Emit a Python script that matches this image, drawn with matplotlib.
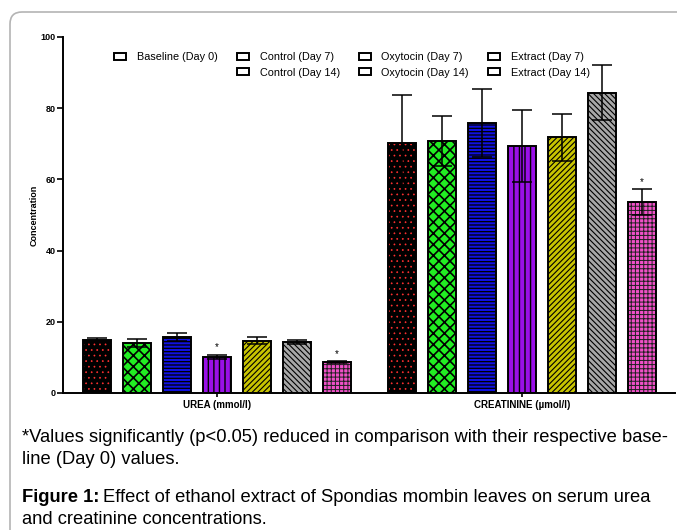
import numpy as np
import matplotlib
matplotlib.use('Agg')
from matplotlib import pyplot as plt
from matplotlib.patches import Patch, FancyBboxPatch

plt.rc('font', family=['Liberation Sans', 'DejaVu Sans'])

groups = ['UREA (mmol/l)', 'CREATININE (µmol/l)']
series = ['Baseline (Day 0)', 'Control (Day 7)', 'Oxytocin (Day 7)', 'Control (Day 14)',
          'Oxytocin (Day 14)', 'Extract (Day 7)', 'Extract (Day 14)']
# mean values, order as in series
urea = [14.9, 14.0, 15.8, 10.2, 14.7, 14.4, 8.7]
urea_err = [0.5, 1.1, 1.1, 0.6, 1.0, 0.6, 0.3]
creat = [70.1, 70.8, 75.8, 69.4, 71.8, 84.3, 53.6]
creat_err = [13.6, 7.1, 9.6, 10.0, 6.7, 7.7, 3.7]
# significantly reduced vs baseline
urea_sig = [False, False, False, True, False, False, True]
creat_sig = [False, False, False, False, False, False, True]

faces = ['black', '#22ee22', '#1010e0', '#9a10e8', '#c8c400', '#a8a8a8', '#f050c8']
hatches = ['...', 'xxx', '-----', '|||', '//////', '\\\\\\\\\\\\', '++++']
hcolors = ['#ff3030', 'black', 'black', 'black', 'black', 'black', '#202020']
hlw = [0.5, 1.2, 0.9, 1.0, 0.8, 0.8, 0.7]

fig = plt.figure(figsize=(6.77, 5.30), dpi=100)
ax = fig.add_axes([63/677, 1-393/530, (675-63)/677, (393-37)/530])

width = 0.7
x_urea = np.arange(7)
x_creat = np.arange(7) + 7.625

for xs, vals, errs, sig in [(x_urea, urea, urea_err, urea_sig), (x_creat, creat, creat_err, creat_sig)]:
    for i in range(7):
        with plt.rc_context({'hatch.linewidth': hlw[i]}):
            ax.bar(xs[i], vals[i], width, color=faces[i], edgecolor=hcolors[i], hatch=hatches[i], lw=0, zorder=2)
        ax.bar(xs[i], vals[i], width, fill=False, edgecolor='black', lw=1.4, zorder=3)
        ax.errorbar(xs[i], vals[i], yerr=errs[i], fmt='none', ecolor='black', elinewidth=1.1,
                    capsize=7, capthick=1.1, zorder=4)
        if sig[i]:
            ax.text(xs[i], vals[i] + errs[i] + 0.6, '*', ha='center', va='bottom', fontsize=7)

ax.set_xlim(-0.85, 14.45)
ax.set_ylim(0, 100)
ax.set_yticks([0, 20, 40, 60, 80, 100])
ax.set_xticks([3, 7.625 + 3])
ax.set_xticklabels(groups, fontsize=7, fontweight='bold')
for lbl in ax.get_yticklabels():
    lbl.set_fontweight('bold')
ax.tick_params(axis='y', labelsize=6.5, length=4, width=1.2, pad=1.5)
ax.tick_params(axis='x', length=3, width=1.2, pad=2)
ax.set_ylabel('Concentration', fontsize=6.5, fontweight='bold', labelpad=1.5)
ax.spines['top'].set_visible(False)
ax.spines['right'].set_visible(False)
ax.spines['left'].set_linewidth(1.4)
ax.spines['bottom'].set_linewidth(1.4)

# legend, baseline alone in first column
handles = [Patch(facecolor='white', edgecolor='black', lw=1.4) for _ in series]
order = [0, None, 1, 3, 2, 4, 5, 6]
hh, ll = [], []
for o in order:
    if o is None:
        hh.append(Patch(alpha=0))
        ll.append('')
    else:
        hh.append(handles[o])
        ll.append(series[o])
ax.legend(hh, ll, ncol=4, loc='upper left', bbox_to_anchor=((110-63)/612, (393-48)/356),
          frameon=False, fontsize=7.8, handlelength=1.1, handleheight=0.55,
          handletextpad=1.0, columnspacing=1.75, labelspacing=0.48, borderaxespad=0)

# page frame
frame = FancyBboxPatch((10, -60), 720, 530 - 12 + 60, boxstyle='round,pad=0,rounding_size=12',
                       transform=None, fill=False, edgecolor='#b4b4b4', lw=1.2)
fig.add_artist(frame)

fs = 13.2
fig.text(22/677, 1-437/530, '*Values significantly (p<0.05) reduced in comparison with their respective base-',
         fontsize=fs, va='center')
fig.text(22/677, 1-460/530, 'line (Day 0) values.', fontsize=fs, va='center')
t = fig.text(22/677, 1-497/530, 'Figure 1:', fontsize=fs, va='center', fontweight='bold')
r = fig.canvas.get_renderer()
bb = t.get_window_extent(r)
fig.text(bb.x1/677 + 4/677, 1-497/530, 'Effect of ethanol extract of Spondias mombin leaves on serum urea',
         fontsize=fs, va='center')
fig.text(22/677, 1-519/530, 'and creatinine concentrations.', fontsize=fs, va='center')

fig.savefig('out.png', dpi=100)
